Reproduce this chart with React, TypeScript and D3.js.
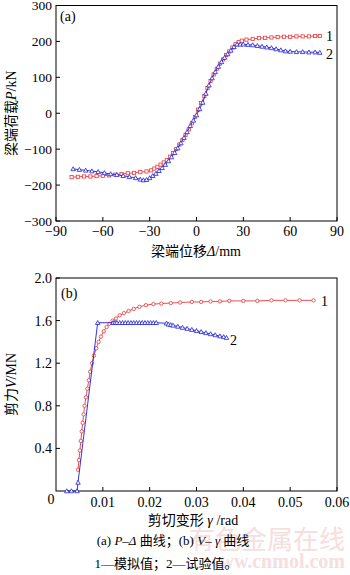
import React from "react";
import * as d3 from "d3";

// Panel (a): P–Δ
const aSimX = [-80,-76,-72,-68,-64,-60,-56,-52,-48,-44,-40,-36,-32,-29,-27,-25,-23,-21,-19,-17,-15,-13,-11,-9,-7,-5,-3,-1,1,3,5,7,9,11,13,15,17,19,21,23,25,27,29,32,36,40,44,48,52,56,60,64,68,72,76,79];
const aSimY = [-178,-177,-176,-176,-175,-174,-173,-171,-169,-167,-166,-164,-162,-159,-154,-149,-143,-137,-130,-121,-111,-100,-87,-74,-60,-45,-28,-10,10,28,48,70,90,108,124,138,150,162,172,183,192,198,202,205,207,209,210,211,212,213,213,214,214,214,215,215];
const aTestX = [-79,-75,-71,-67,-63,-59,-55,-51,-47,-43,-39,-36,-34,-32,-30,-28,-26,-24,-22,-20,-18,-16,-14,-12,-10,-8,-6,-4,-2,0,2,4,6,8,10,12,14,16,18,20,22,24,26,28,30,33,36,39,42,45,48,51,54,57,60,64,68,72,76,79];
const aTestY = [-155,-157,-159,-161,-163,-166,-169,-171,-174,-177,-180,-184,-186,-185,-180,-174,-168,-160,-152,-143,-133,-122,-110,-97,-83,-68,-52,-35,-20,-5,12,30,55,78,98,115,130,143,155,165,175,185,192,192,192,191,190,188,186,184,182,179,176,173,172,171,171,170,170,169];
const aXTicks = [-90,-60,-30,0,30,60,90];
const aYTicks = [-300,-200,-100,0,100,200,300];

// Panel (b): V–γ
const bSimX = [0.0047,0.0049,0.0051,0.0053,0.0055,0.0057,0.0059,0.0061,0.0064,0.0067,0.0070,0.0073,0.0077,0.0081,0.0086,0.0091,0.0096,0.0102,0.0108,0.0114,0.0121,0.0128,0.0136,0.0145,0.0155,0.0166,0.0178,0.0192,0.0208,0.0225,0.0245,0.0265,0.029,0.031,0.033,0.035,0.037,0.040,0.043,0.046,0.049,0.052,0.055];
const bSimY = [0.20,0.29,0.38,0.47,0.56,0.64,0.72,0.80,0.88,0.96,1.04,1.12,1.20,1.27,1.34,1.40,1.45,1.50,1.54,1.57,1.60,1.62,1.65,1.67,1.69,1.71,1.73,1.745,1.755,1.76,1.765,1.77,1.775,1.775,1.78,1.78,1.785,1.785,1.785,1.79,1.79,1.79,1.79];
const bTestX = [0.0023,0.0033,0.0045,0.0047,0.0089,0.0122,0.0126,0.0130,0.0136,0.0142,0.0148,0.0154,0.0160,0.0166,0.0172,0.0178,0.0184,0.0190,0.0196,0.0202,0.0208,0.0214,0.0236,0.0240,0.0245,0.025,0.026,0.027,0.028,0.029,0.030,0.031,0.032,0.033,0.034,0.035,0.0358,0.0364];
const bTestY = [0,0,0,0.08,1.58,1.58,1.58,1.58,1.58,1.58,1.58,1.58,1.58,1.58,1.58,1.58,1.58,1.58,1.58,1.58,1.58,1.58,1.575,1.565,1.56,1.555,1.545,1.535,1.525,1.515,1.505,1.495,1.485,1.475,1.465,1.455,1.448,1.44];
const bXTicks = [0.01,0.02,0.03,0.04,0.05,0.06];
const bXTickLabels = ["0.01","0.02","0.03","0.04","0.05","0.06"];
const bYTicks = [0.4,0.8,1.2,1.6,2.0];
const bYTickLabels = ["0.4","0.8","1.2","1.6","2.0"];

const RED = "#e8393a";
const BLUE = "#1f1fd6";
const FONT = "'Liberation Serif', 'Times New Roman', 'Noto Sans CJK SC', serif";

const L = 56, R = 337;

function squareMarker(x: number, y: number, k: string) {
  return <rect key={k} x={x - 1.6} y={y - 1.6} width={3.2} height={3.2} fill="white" stroke={RED} strokeWidth={0.8} />;
}
function circleMarker(x: number, y: number, k: string) {
  return <circle key={k} cx={x} cy={y} r={1.7} fill="white" stroke={RED} strokeWidth={0.8} />;
}
function triMarker(x: number, y: number, k: string) {
  const s = 2.2;
  return <path key={k} d={`M${x},${y - s}L${x + s},${y + s * 0.8}L${x - s},${y + s * 0.8}Z`} fill="white" stroke={BLUE} strokeWidth={0.8} />;
}

export default function App() {
  // panel a
  const ax = d3.scaleLinear().domain([-90, 90]).range([L, R]);
  const ay = d3.scaleLinear().domain([-300, 300]).range([221, 5.5]);
  // panel b
  const bx = d3.scaleLinear().domain([0, 0.06]).range([L, R]);
  const by = d3.scaleLinear().domain([0, 2.0]).range([491, 278]);

  const lineA = d3.line<[number, number]>().x(d => ax(d[0])).y(d => ay(d[1]));
  const lineB = d3.line<[number, number]>().x(d => bx(d[0])).y(d => by(d[1]));

  const aSim = aSimX.map((x, i) => [x, aSimY[i]] as [number, number]);
  const aTest = aTestX.map((x, i) => [x, aTestY[i]] as [number, number]);
  const bSim = bSimX.map((x, i) => [x, bSimY[i]] as [number, number]);
  const bTest = bTestX.map((x, i) => [x, bTestY[i]] as [number, number]);

  const tick = 4;

  return (
    <svg width={350} height={575} style={{ position: "absolute", left: 0, top: 0, background: "white" }} fontFamily={FONT}>
      <rect x={0} y={0} width={350} height={575} fill="white" />
      {/* watermark */}
      <text x={345} y={549} textAnchor="end" fontSize={26} fill="#f6dede" fontFamily="'Noto Sans CJK SC', sans-serif">有色金属在线</text>
      <text x={345} y={568} textAnchor="end" fontSize={20} fill="#f6dede" fontWeight="bold">www.cnmol.com</text>

      {/* ===== Panel a ===== */}
      <rect x={L} y={ay(300)} width={R - L} height={ay(-300) - ay(300)} fill="none" stroke="black" strokeWidth={1} />
      {aXTicks.map(t => (
        <g key={"ax" + t}>
          <line x1={ax(t)} x2={ax(t)} y1={ay(-300)} y2={ay(-300) - tick} stroke="black" />
          <text x={ax(t)} y={ay(-300) + 15} textAnchor="middle" fontSize={14}>{t < 0 ? "\u2212" + Math.abs(t) : t}</text>
        </g>
      ))}
      {aYTicks.map(t => (
        <g key={"ay" + t}>
          <line x1={L} x2={L + tick} y1={ay(t)} y2={ay(t)} stroke="black" />
          <text x={L - 4} y={ay(t) + 4.5} textAnchor="end" fontSize={13.5}>{t < 0 ? "\u2212" + Math.abs(t) : t}</text>
        </g>
      ))}
      <path d={lineA(aSim) || ""} fill="none" stroke={RED} strokeWidth={0.9} />
      {aSim.map((d, i) => squareMarker(ax(d[0]), ay(d[1]), "as" + i))}
      <path d={lineA(aTest) || ""} fill="none" stroke={BLUE} strokeWidth={0.9} />
      {aTest.map((d, i) => triMarker(ax(d[0]), ay(d[1]), "at" + i))}
      <text x={60} y={21} fontSize={14}>(a)</text>
      <text x={326} y={41} fontSize={14}>1</text>
      <text x={326} y={59} fontSize={14}>2</text>
      <text x={196} y={256} textAnchor="middle" fontSize={14}>
        <tspan>梁端位移</tspan><tspan fontStyle="italic">Δ</tspan><tspan>/mm</tspan>
      </text>
      <text transform={`translate(16,${ay(0)}) rotate(-90)`} textAnchor="middle" fontSize={14}>
        <tspan>梁端荷载</tspan><tspan fontStyle="italic">P</tspan><tspan>/kN</tspan>
      </text>

      {/* ===== Panel b ===== */}
      <rect x={L} y={by(2.0)} width={R - L} height={by(0) - by(2.0)} fill="none" stroke="black" strokeWidth={1} />
      {bXTicks.map((t, i) => (
        <g key={"bx" + i}>
          <line x1={bx(t)} x2={bx(t)} y1={by(0)} y2={by(0) - tick} stroke="black" />
          <text x={bx(t)} y={by(0) + 16} textAnchor="middle" fontSize={14}>{bXTickLabels[i]}</text>
        </g>
      ))}
      {bYTicks.map((t, i) => (
        <g key={"by" + i}>
          <line x1={L} x2={L + tick} y1={by(t)} y2={by(t)} stroke="black" />
          <text x={L - 4} y={by(t) + 5} textAnchor="end" fontSize={14}>{bYTickLabels[i]}</text>
        </g>
      ))}
      <text x={51} y={by(0) + 13} textAnchor="middle" fontSize={14}>0</text>
      <path d={lineB(bSim) || ""} fill="none" stroke={RED} strokeWidth={0.9} />
      {bSim.map((d, i) => circleMarker(bx(d[0]), by(d[1]), "bs" + i))}
      <path d={lineB(bTest) || ""} fill="none" stroke={BLUE} strokeWidth={0.9} />
      {bTest.map((d, i) => triMarker(bx(d[0]), by(d[1]), "bt" + i))}
      <text x={61} y={298} fontSize={14}>(b)</text>
      <text x={321} y={306} fontSize={14}>1</text>
      <text x={230} y={345} fontSize={14}>2</text>
      <text x={193} y={525} textAnchor="middle" fontSize={14}>
        <tspan>剪切变形 </tspan><tspan fontStyle="italic">γ</tspan><tspan> /rad</tspan>
      </text>
      <text transform={`translate(16,${by(1.0)}) rotate(-90)`} textAnchor="middle" fontSize={14}>
        <tspan>剪力</tspan><tspan fontStyle="italic">V</tspan><tspan>/MN</tspan>
      </text>

      {/* captions */}
      <text x={173} y={545} textAnchor="middle" fontSize={13}>
        <tspan>(a) </tspan><tspan fontStyle="italic">P</tspan><tspan>–</tspan><tspan fontStyle="italic">Δ</tspan><tspan> 曲线；(b) </tspan><tspan fontStyle="italic">V</tspan><tspan>– </tspan><tspan fontStyle="italic">γ</tspan><tspan> 曲线</tspan>
      </text>
      <text x={166} y={568} textAnchor="middle" fontSize={13}>1—模拟值；2—试验值。</text>
    </svg>
  );
}
